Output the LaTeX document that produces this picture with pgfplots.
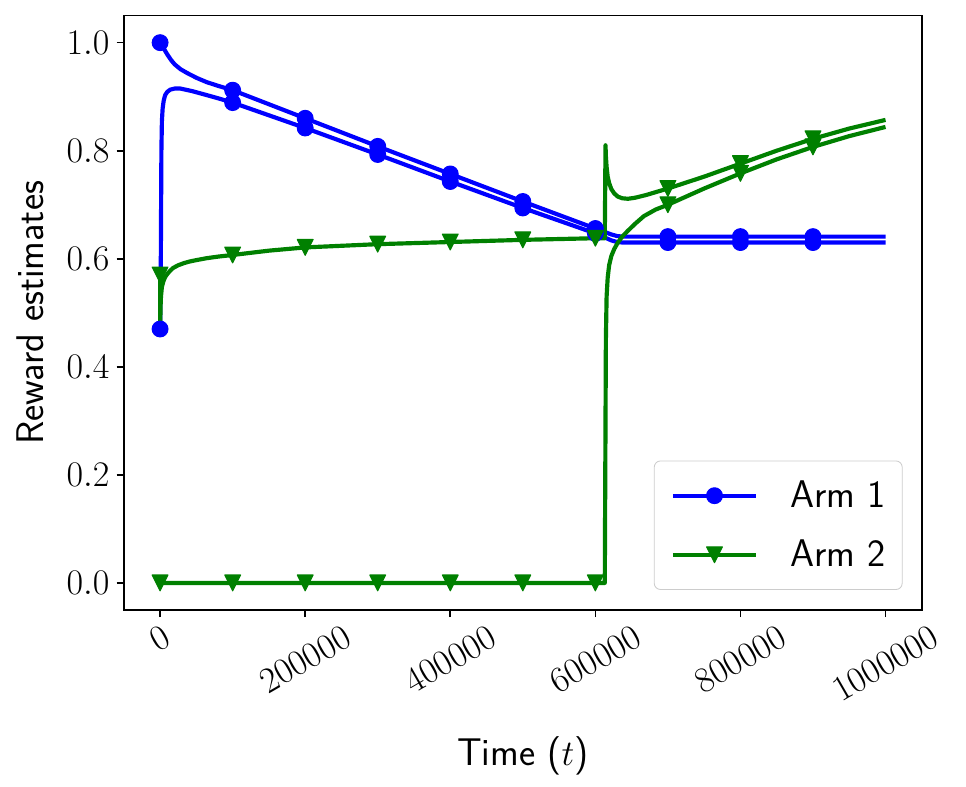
\documentclass[border=0pt]{standalone}
\usepackage{graphicx}
\usepackage{pgfplots}
\pgfplotsset{compat=1.18}
\pgfdeclareplotmark{tridown}{%
 \pgfpathmoveto{\pgfqpoint{0pt}{-\pgfplotmarksize}}%
 \pgfpathlineto{\pgfqpoint{-\pgfplotmarksize}{\pgfplotmarksize}}%
 \pgfpathlineto{\pgfqpoint{\pgfplotmarksize}{\pgfplotmarksize}}%
 \pgfpathclose\pgfusepathqfillstroke}
\definecolor{mplgreen}{rgb}{0,0.5,0}
\begin{document}
\begin{tikzpicture}
\begin{axis}[
 scale only axis, width=382.8pt, height=285.1pt,
 xmin=-50000, xmax=1050000, ymin=-0.05, ymax=1.05,
 scaled x ticks=false,
 xtick={0,200000,400000,600000,800000,1000000},
 xticklabels={{\rotatebox{30}{$0$}},{\rotatebox{30}{$200000$}},{\rotatebox{30}{$400000$}},{\rotatebox{30}{$600000$}},{\rotatebox{30}{$800000$}},{\rotatebox{30}{$1000000$}}},
 xticklabel style={anchor=north, font=\fontsize{17.5}{20}\selectfont},
 ytick={0,0.2,0.4,0.6,0.8,1.0},
 yticklabel style={font=\fontsize{17.5}{20}\selectfont, /pgf/number format/.cd, fixed, fixed zerofill, precision=1},
 tick align=outside, major tick length=3.4pt,
 tick style={black, line width=0.8pt},
 axis line style={line width=0.8pt},
 xtick pos=bottom, ytick pos=left,
 xlabel={\sffamily Time ($t$)},
 ylabel={\sffamily Reward estimates},
 xlabel style={font=\fontsize{18.5}{22}\selectfont, at={(axis description cs:0.5,0)}, anchor=base, yshift=-74.4pt},
 ylabel style={font=\fontsize{18.5}{22}\selectfont, at={(axis description cs:0,0.5)}, anchor=base, yshift=38.4pt},
 every axis plot/.append style={line join=round},
 legend image code/.code={\draw[mark repeat=2,mark phase=2,#1] plot coordinates {(0pt,0pt) (20pt,0pt) (40pt,0pt)};},
 legend style={at={(axis description cs:1,0)}, anchor=south east, xshift=-9.2pt, yshift=9.6pt,
   draw=black!20, rounded corners=3pt, fill=white, font=\fontsize{18.5}{22}\sffamily,
   inner xsep=8pt, inner ysep=9.5pt, row sep=14pt,
   nodes={inner sep=0pt},
   /tikz/every odd column/.append style={column sep=15.4pt}},
 legend cell align=left,
]
\addlegendimage{blue, line width=1.8pt, mark=*, mark size=3.8pt, mark options={line width=0.5pt, solid}}
\addlegendentry{Arm 1}
\addlegendimage{mplgreen, line width=1.8pt, mark=tridown, mark size=3.8pt, mark options={line width=0.5pt, solid}}
\addlegendentry{Arm 2}
% Arm 1, estimate A
\addplot[blue, line width=2pt, forget plot] coordinates {
(0,1.0) (1000,0.998) (3000,0.993) (6000,0.987) (10000,0.978) (15000,0.968) (20000,0.960) (28000,0.951)
(37000,0.944) (50000,0.935) (64000,0.927) (80000,0.920) (100000,0.912)
(200000,0.860) (300000,0.808) (400000,0.757) (500000,0.706) (600000,0.656)
(612000,0.650) (622000,0.645) (630000,0.642) (638000,0.641) (1000000,0.641)};
\addplot[blue, only marks, mark=*, mark size=3.8pt, line width=0.5pt, forget plot] coordinates {
(0,1.0) (100000,0.912) (200000,0.860) (300000,0.808) (400000,0.757) (500000,0.706)
(600000,0.656) (700000,0.641) (800000,0.641) (900000,0.641)};
% Arm 1, estimate B
\addplot[blue, line width=2pt, forget plot] coordinates {
(0,0.47) (1000,0.6) (1800,0.8) (2500,0.855) (3500,0.878) (5000,0.893) (7000,0.903) (10000,0.909)
(14000,0.913) (20000,0.915) (28000,0.915) (35000,0.913) (45000,0.910) (64000,0.903) (80000,0.897)
(100000,0.889) (200000,0.842) (300000,0.793) (400000,0.743) (500000,0.694)
(600000,0.647) (612000,0.640) (622000,0.634) (630000,0.631) (638000,0.630) (1000000,0.630)};
\addplot[blue, only marks, mark=*, mark size=3.8pt, line width=0.5pt, forget plot] coordinates {
(0,0.47) (100000,0.889) (200000,0.842) (300000,0.793) (400000,0.743) (500000,0.694)
(600000,0.647) (700000,0.630) (800000,0.630) (900000,0.630)};
% Arm 2, estimate C
\addplot[mplgreen, line width=2pt, forget plot] coordinates {
(0,0.57) (200,0.475) (600,0.51) (1200,0.53) (2500,0.548) (4500,0.558) (6900,0.566) (10000,0.572)
(14000,0.578) (18000,0.583) (25000,0.588) (33000,0.592) (41000,0.595) (52000,0.598) (64000,0.601)
(80000,0.604) (100000,0.607) (150000,0.615) (200000,0.621) (300000,0.627) (400000,0.631)
(500000,0.635) (600000,0.638) (613000,0.638)
(614000,0.81) (614500,0.79) (615500,0.77) (617000,0.752) (619000,0.740) (622000,0.729)
(626000,0.721) (631000,0.715) (637000,0.712) (645000,0.711) (655000,0.713) (670000,0.718)
(685000,0.724) (700000,0.730) (750000,0.752) (800000,0.776) (850000,0.800) (900000,0.822)
(950000,0.841) (1000000,0.857)};
\addplot[mplgreen, only marks, mark=tridown, mark size=3.8pt, line width=0.5pt, forget plot] coordinates {
(0,0.57) (100000,0.607) (200000,0.621) (300000,0.627) (400000,0.631) (500000,0.635)
(600000,0.638) (700000,0.730) (800000,0.776) (900000,0.822)};
% Arm 2, estimate D
\addplot[mplgreen, line width=2pt, forget plot] coordinates {
(0,0) (613000,0) (614000,0.3) (614500,0.45) (615500,0.53) (617000,0.565) (619000,0.588)
(622000,0.605) (626000,0.618) (631000,0.630) (637000,0.641) (645000,0.652) (655000,0.665)
(667000,0.679) (683000,0.691) (700000,0.700) (750000,0.730) (800000,0.758) (850000,0.784)
(900000,0.807) (950000,0.827) (1000000,0.844)};
\addplot[mplgreen, only marks, mark=tridown, mark size=3.8pt, line width=0.5pt, forget plot] coordinates {
(0,0) (100000,0) (200000,0) (300000,0) (400000,0) (500000,0)
(600000,0) (700000,0.700) (800000,0.758) (900000,0.807)};
\end{axis}
\pgfresetboundingbox
\path[use as bounding box] ([xshift=-59.4pt,yshift=-84.6pt]current axis.south west) rectangle ([xshift=21.2pt,yshift=7.5pt]current axis.north east);
\end{tikzpicture}
\end{document}
